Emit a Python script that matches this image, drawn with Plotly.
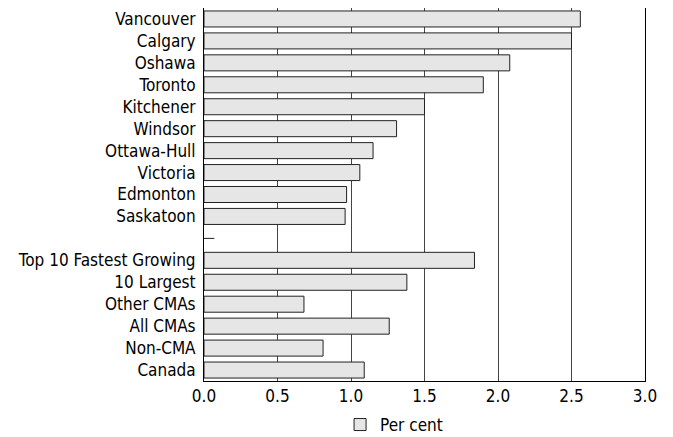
import plotly.graph_objects as go

# Categories from top to bottom (blank row separates the two groups)
regions = ['Vancouver', 'Calgary', 'Oshawa', 'Toronto', 'Kitchener', 'Windsor',
           'Ottawa-Hull', 'Victoria', 'Edmonton', 'Saskatoon', ' ',
           'Top 10 Fastest Growing', '10 Largest', 'Other CMAs', 'All CMAs',
           'Non-CMA', 'Canada']
per_cent = [2.56, 2.50, 2.08, 1.90, 1.50, 1.31, 1.15, 1.06, 0.97, 0.96, None,
            1.84, 1.38, 0.68, 1.26, 0.81, 1.09]
x_ticks = [0.0, 0.5, 1.0, 1.5, 2.0, 2.5, 3.0]
x_tick_labels = ['0.0', '0.5', '1.0', '1.5', '2.0', '2.5', '3.0']

font_family = 'Liberation Sans Narrow, DejaVu Sans Condensed, Liberation Sans, Arial'

fig = go.Figure()
fig.add_trace(go.Bar(
    y=regions, x=per_cent, orientation='h', name='Per cent',
    width=0.73,
    marker=dict(color='#e6e6e6', line=dict(color='#222222', width=1)),
))

# small stub drawn in the empty separator row
fig.add_shape(type='line', xref='x', yref='y', x0=0, x1=0.07, y0=' ', y1=' ',
              line=dict(color='#222222', width=1))

# the page body adds an 8px offset, so the figure is 8px smaller
fig.update_layout(
    width=665, height=429,
    margin=dict(l=196, r=28, t=0, b=56, autoexpand=False),
    plot_bgcolor='white', paper_bgcolor='white',
    font=dict(family=font_family, size=17, color='black'),
    showlegend=True,
    legend=dict(orientation='h', xref='paper', x=0.431, xanchor='center',
                yref='container', y=0.028, yanchor='middle',
                font=dict(size=17)),
    xaxis=dict(range=[0, 3], tickvals=x_ticks, ticktext=x_tick_labels,
               showgrid=True, gridcolor='#444444', gridwidth=1,
               showline=True, linecolor='black', linewidth=1,
               ticks='', zeroline=False, fixedrange=True),
    yaxis=dict(categoryorder='array', categoryarray=regions, autorange='reversed',
               showline=True, linecolor='black', linewidth=1, mirror=True,
               showgrid=False, ticks='', ticklabelstandoff=4),
)

fig.write_html('out.html')
